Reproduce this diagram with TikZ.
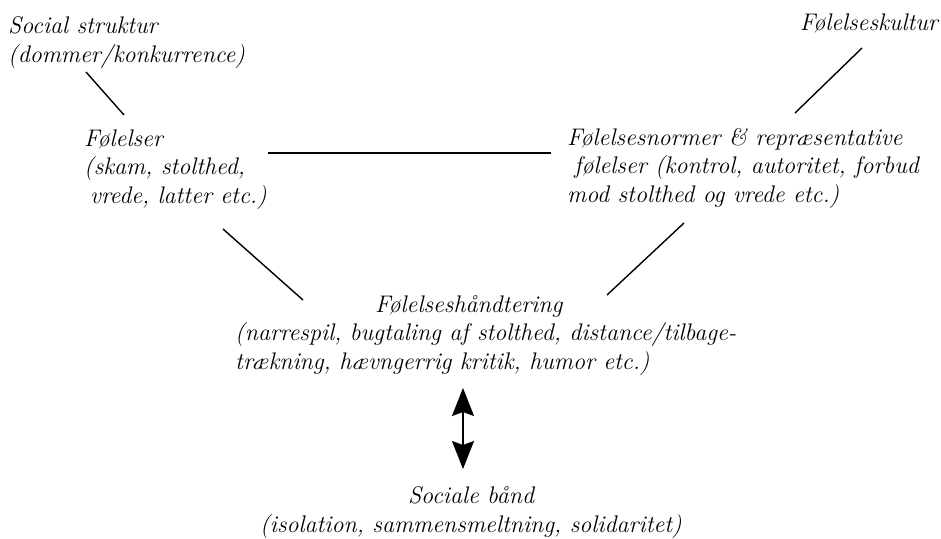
\documentclass[tikz,border=0pt]{standalone}
\usepackage{fontspec}
\usetikzlibrary{arrows.meta}
\begin{document}
\begin{tikzpicture}[x=1pt,y=-1pt,
  lbl/.style={inner sep=0pt, align=left, font=\fontsize{24}{28.5}\selectfont\itshape, anchor=base west},
  conn/.style={line width=1.4pt},
  dbl/.style={line width=1.6pt, {Stealth[length=28pt,width=22pt,inset=4pt]}-{Stealth[length=28pt,width=22pt,inset=4pt]}}]
\useasboundingbox (0,0) rectangle (941,538);
% text blocks (anchor = baseline of last line)
\node[lbl] (soc) at (8,62) {Social struktur\\(dommer/konkurrence)};
\node[lbl] (fol) at (84,203) {Følelser\\(skam, stolthed,\\\hspace{0.25em}vrede, latter etc.)};
\node[lbl, anchor=base east] (kul) at (938,30) {Følelseskultur};
\node[lbl] (nor) at (567,202) {Følelsesnormer \& repræsentative\\\hspace{0.3em}følelser (kontrol, autoritet, forbud\\mod stolthed og vrede etc.)};
\node[lbl] (hand) at (235,369) {\hspace{140pt}Følelseshåndtering\\(narrespil, bugtaling af stolthed, distance/tilbage-\\trækning, hævngerrig kritik, humor etc.)};
\node[lbl, align=center, anchor=base] (band) at (471,532) {Sociale bånd\\(isolation, sammensmeltning, solidaritet)};
% connector end points
\coordinate (s1) at (86,72);
\coordinate (f1) at (124,115);
\coordinate (f2) at (268,153);
\coordinate (n2) at (551,153);
\coordinate (k1) at (862,48);
\coordinate (n1) at (795,113);
\coordinate (f3) at (223,229);
\coordinate (h1) at (303,300);
\coordinate (n3) at (684,223);
\coordinate (h2) at (607,295);
\coordinate (h3) at (463,388);
\coordinate (b1) at (463,469);
\draw[conn] (s1) -- (f1);
\draw[conn] (f2) -- (n2);
\draw[conn] (k1) -- (n1);
\draw[conn] (f3) -- (h1);
\draw[conn] (n3) -- (h2);
\draw[dbl] (h3) -- (b1);
\end{tikzpicture}
\end{document}
